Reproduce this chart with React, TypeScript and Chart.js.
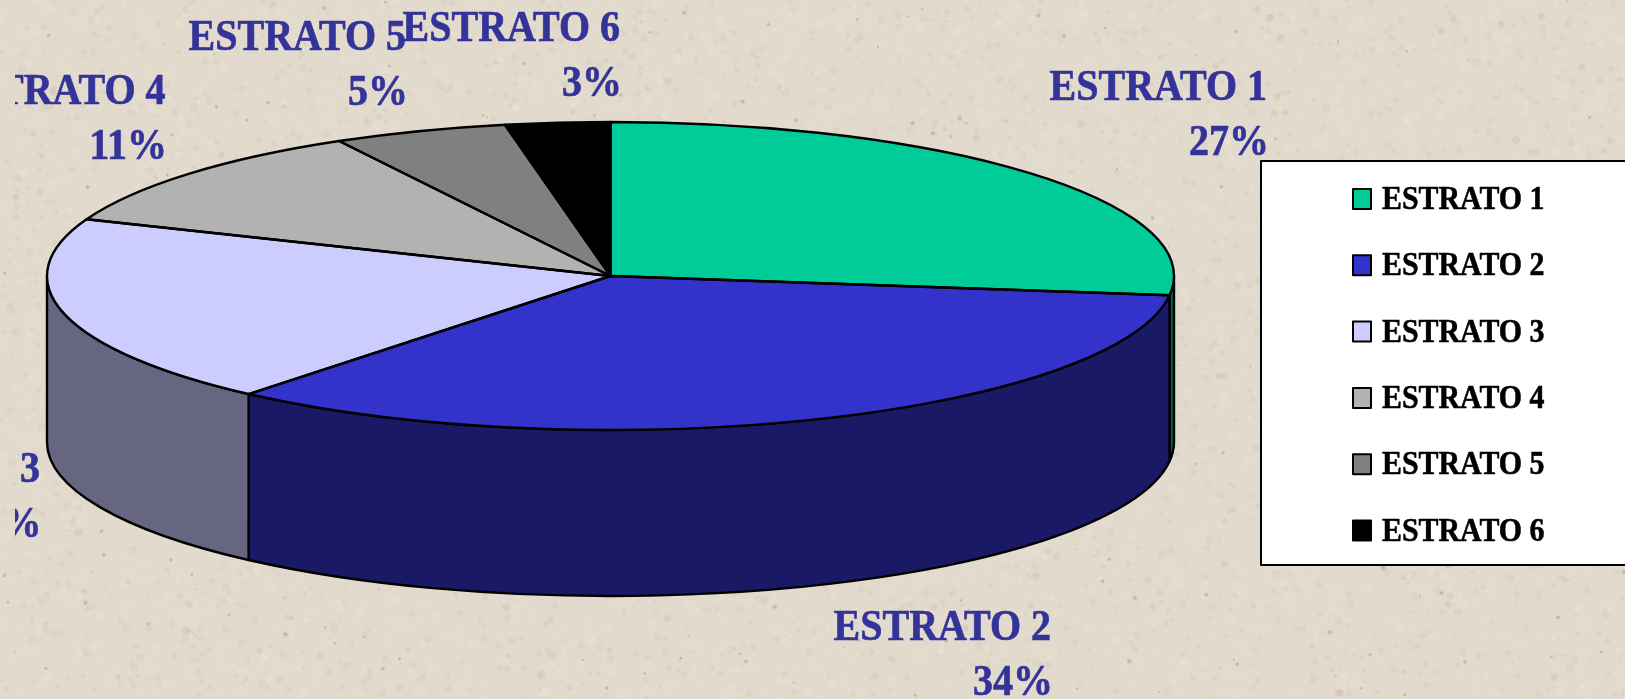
import React, { useEffect, useRef } from "react";
import { Chart, registerables } from "chart.js";

Chart.register(...registerables);

const categories = ["ESTRATO 1", "ESTRATO 2", "ESTRATO 3", "ESTRATO 4", "ESTRATO 5", "ESTRATO 6"];
const shares = [27, 34.1, 19.9, 11, 5, 3];
const topColors = ["#00CC99", "#3333CC", "#CCCCFF", "#B2B2B2", "#808080", "#000000"];
const wallColors = ["#00664D", "#191966", "#666680", "#595959", "#404040", "#000000"];

// Layout of the drawing (pixels on the canvas)
const W = 1625;
const H = 699;
const PIE = { cx: 610.5, cy: 276, a: 563.5, b: 154, depth: 166 };
const LABEL_RIGHT = [1267, 1051, 40, 165.5, 406, 620];
const PERCENT_RIGHT = [1269, 1053, 41.5, 167, 408, 622];
const LABEL_BASE = [100, 640, 482, 104, 50, 41];
const LABEL_GAP = 55;
const LABEL_CLIP_X = 15;
const TEXT_STRETCH = 1.1;
const LEGEND = { x: 1261, y: 161, w: 380, h: 404, swatchX: 1353, swatchW: 18, swatchH: 20, textX: 1382, firstBase: 209, rowGap: 66.3 };

const FONT = '"Liberation Serif", serif';

function stretchedText(ctx: CanvasRenderingContext2D, s: string, x: number, y: number) {
  ctx.save();
  ctx.translate(x, y);
  ctx.scale(1, TEXT_STRETCH);
  ctx.fillText(s, 0, 0);
  ctx.strokeText(s, 0, 0);
  ctx.restore();
}

const paper = {
  id: "paper",
  beforeDraw(chart: any) {
    const ctx = chart.ctx as CanvasRenderingContext2D;
    ctx.save();
    ctx.fillStyle = "#E2DACC";
    ctx.fillRect(0, 0, W, H);
    // Deterministic paper grain
    let s = 12345;
    const next = () => {
      s = (s * 1103515245 + 12345) & 0x7fffffff;
      return s / 0x7fffffff;
    };
    for (let i = 0; i < 7000; i++) {
      const x = next() * W;
      const y = next() * H;
      const r = 1 + next() * 3;
      const light = next() > 0.5;
      ctx.fillStyle = light ? "rgba(240,233,222,0.22)" : "rgba(190,180,165,0.16)";
      ctx.beginPath();
      ctx.arc(x, y, r, 0, Math.PI * 2);
      ctx.fill();
    }
    for (let i = 0; i < 260; i++) {
      const x = next() * W;
      const y = next() * H;
      ctx.fillStyle = "rgba(150,140,125,0.4)";
      ctx.beginPath();
      ctx.arc(x, y, 0.8 + next() * 1.2, 0, Math.PI * 2);
      ctx.fill();
    }
    ctx.restore();
  },
};

const tiltedPie = {
  id: "tiltedPie",
  beforeDatasetsDraw(chart: any) {
    const ctx = chart.ctx as CanvasRenderingContext2D;
    const arcs = chart.getDatasetMeta(0).data;
    const first = arcs[0].getProps(["x", "y", "outerRadius"], true);
    // Side wall: only the front half of the rim is visible
    ctx.lineWidth = 2.4;
    ctx.strokeStyle = "#000";
    ctx.lineJoin = "round";
    arcs.forEach((arc: any, i: number) => {
      const p = arc.getProps(["startAngle", "endAngle"], true);
      const s = Math.max(p.startAngle, 0);
      const e = Math.min(p.endAngle, Math.PI);
      if (e <= s) return;
      ctx.beginPath();
      ctx.ellipse(PIE.cx, PIE.cy, PIE.a, PIE.b, 0, s, e);
      ctx.ellipse(PIE.cx, PIE.cy + PIE.depth, PIE.a, PIE.b, 0, e, s, true);
      ctx.closePath();
      ctx.fillStyle = wallColors[i];
      ctx.fill();
      ctx.stroke();
    });
    // Flatten the library's own arcs onto the ellipse
    ctx.save();
    ctx.translate(PIE.cx, PIE.cy);
    ctx.scale(PIE.a / first.outerRadius, PIE.b / first.outerRadius);
    ctx.translate(-first.x, -first.y);
  },
  afterDatasetsDraw(chart: any) {
    const ctx = chart.ctx as CanvasRenderingContext2D;
    ctx.restore();
    ctx.save();
    ctx.lineWidth = 2.4;
    ctx.strokeStyle = "#000";
    ctx.lineJoin = "round";
    chart.getDatasetMeta(0).data.forEach((arc: any) => {
      const p = arc.getProps(["startAngle", "endAngle"], true);
      ctx.beginPath();
      ctx.moveTo(PIE.cx, PIE.cy);
      ctx.ellipse(PIE.cx, PIE.cy, PIE.a, PIE.b, 0, p.startAngle, p.endAngle);
      ctx.closePath();
      ctx.stroke();
    });
    ctx.restore();
  },
};

const annotations = {
  id: "annotations",
  afterDraw(chart: any) {
    const ctx = chart.ctx as CanvasRenderingContext2D;
    const labels: string[] = chart.data.labels;
    const values: number[] = chart.data.datasets[0].data;

    // Slice labels, clipped at the left the way the source picture is
    ctx.save();
    ctx.beginPath();
    ctx.rect(LABEL_CLIP_X, 0, W - LABEL_CLIP_X, H);
    ctx.clip();
    ctx.font = `bold 40px ${FONT}`;
    ctx.fillStyle = "#333399";
    ctx.strokeStyle = "#333399";
    ctx.lineWidth = 0.6;
    ctx.textAlign = "right";
    ctx.textBaseline = "alphabetic";
    labels.forEach((label, i) => {
      stretchedText(ctx, label, LABEL_RIGHT[i], LABEL_BASE[i]);
      stretchedText(ctx, `${Math.round(values[i])}%`, PERCENT_RIGHT[i], LABEL_BASE[i] + LABEL_GAP);
    });
    ctx.restore();

    // Legend box
    ctx.save();
    ctx.fillStyle = "#FFFFFF";
    ctx.strokeStyle = "#000";
    ctx.lineWidth = 2;
    ctx.fillRect(LEGEND.x, LEGEND.y, LEGEND.w, LEGEND.h);
    ctx.strokeRect(LEGEND.x, LEGEND.y, LEGEND.w, LEGEND.h);
    ctx.textAlign = "left";
    ctx.textBaseline = "alphabetic";
    labels.forEach((label, i) => {
      const base = LEGEND.firstBase + i * LEGEND.rowGap;
      ctx.lineWidth = 2;
      ctx.strokeStyle = "#000";
      ctx.fillStyle = topColors[i];
      ctx.fillRect(LEGEND.swatchX, base - 20, LEGEND.swatchW, LEGEND.swatchH);
      ctx.strokeRect(LEGEND.swatchX, base - 20, LEGEND.swatchW, LEGEND.swatchH);
      ctx.fillStyle = "#000";
      ctx.font = `bold 29.9px ${FONT}`;
      ctx.lineWidth = 0.5;
      stretchedText(ctx, label, LEGEND.textX, base);
    });
    ctx.restore();
  },
};

export default function App() {
  const ref = useRef<HTMLCanvasElement>(null);
  useEffect(() => {
    const chart = new Chart(ref.current as HTMLCanvasElement, {
      type: "pie",
      data: {
        labels: categories,
        datasets: [
          {
            data: shares,
            backgroundColor: topColors,
            borderWidth: 0,
            clip: false,
          } as any,
        ],
      },
      options: {
        animation: false,
        responsive: false,
        plugins: { legend: { display: false }, tooltip: { enabled: false }, title: { display: false } },
      },
      plugins: [paper, tiltedPie, annotations],
    });
    return () => chart.destroy();
  }, []);
  return (
    <div style={{ position: "fixed", left: 0, top: 0, width: W, height: H, overflow: "hidden" }}>
      <canvas ref={ref} width={W} height={H} style={{ display: "block", width: W, height: H }} />
    </div>
  );
}
